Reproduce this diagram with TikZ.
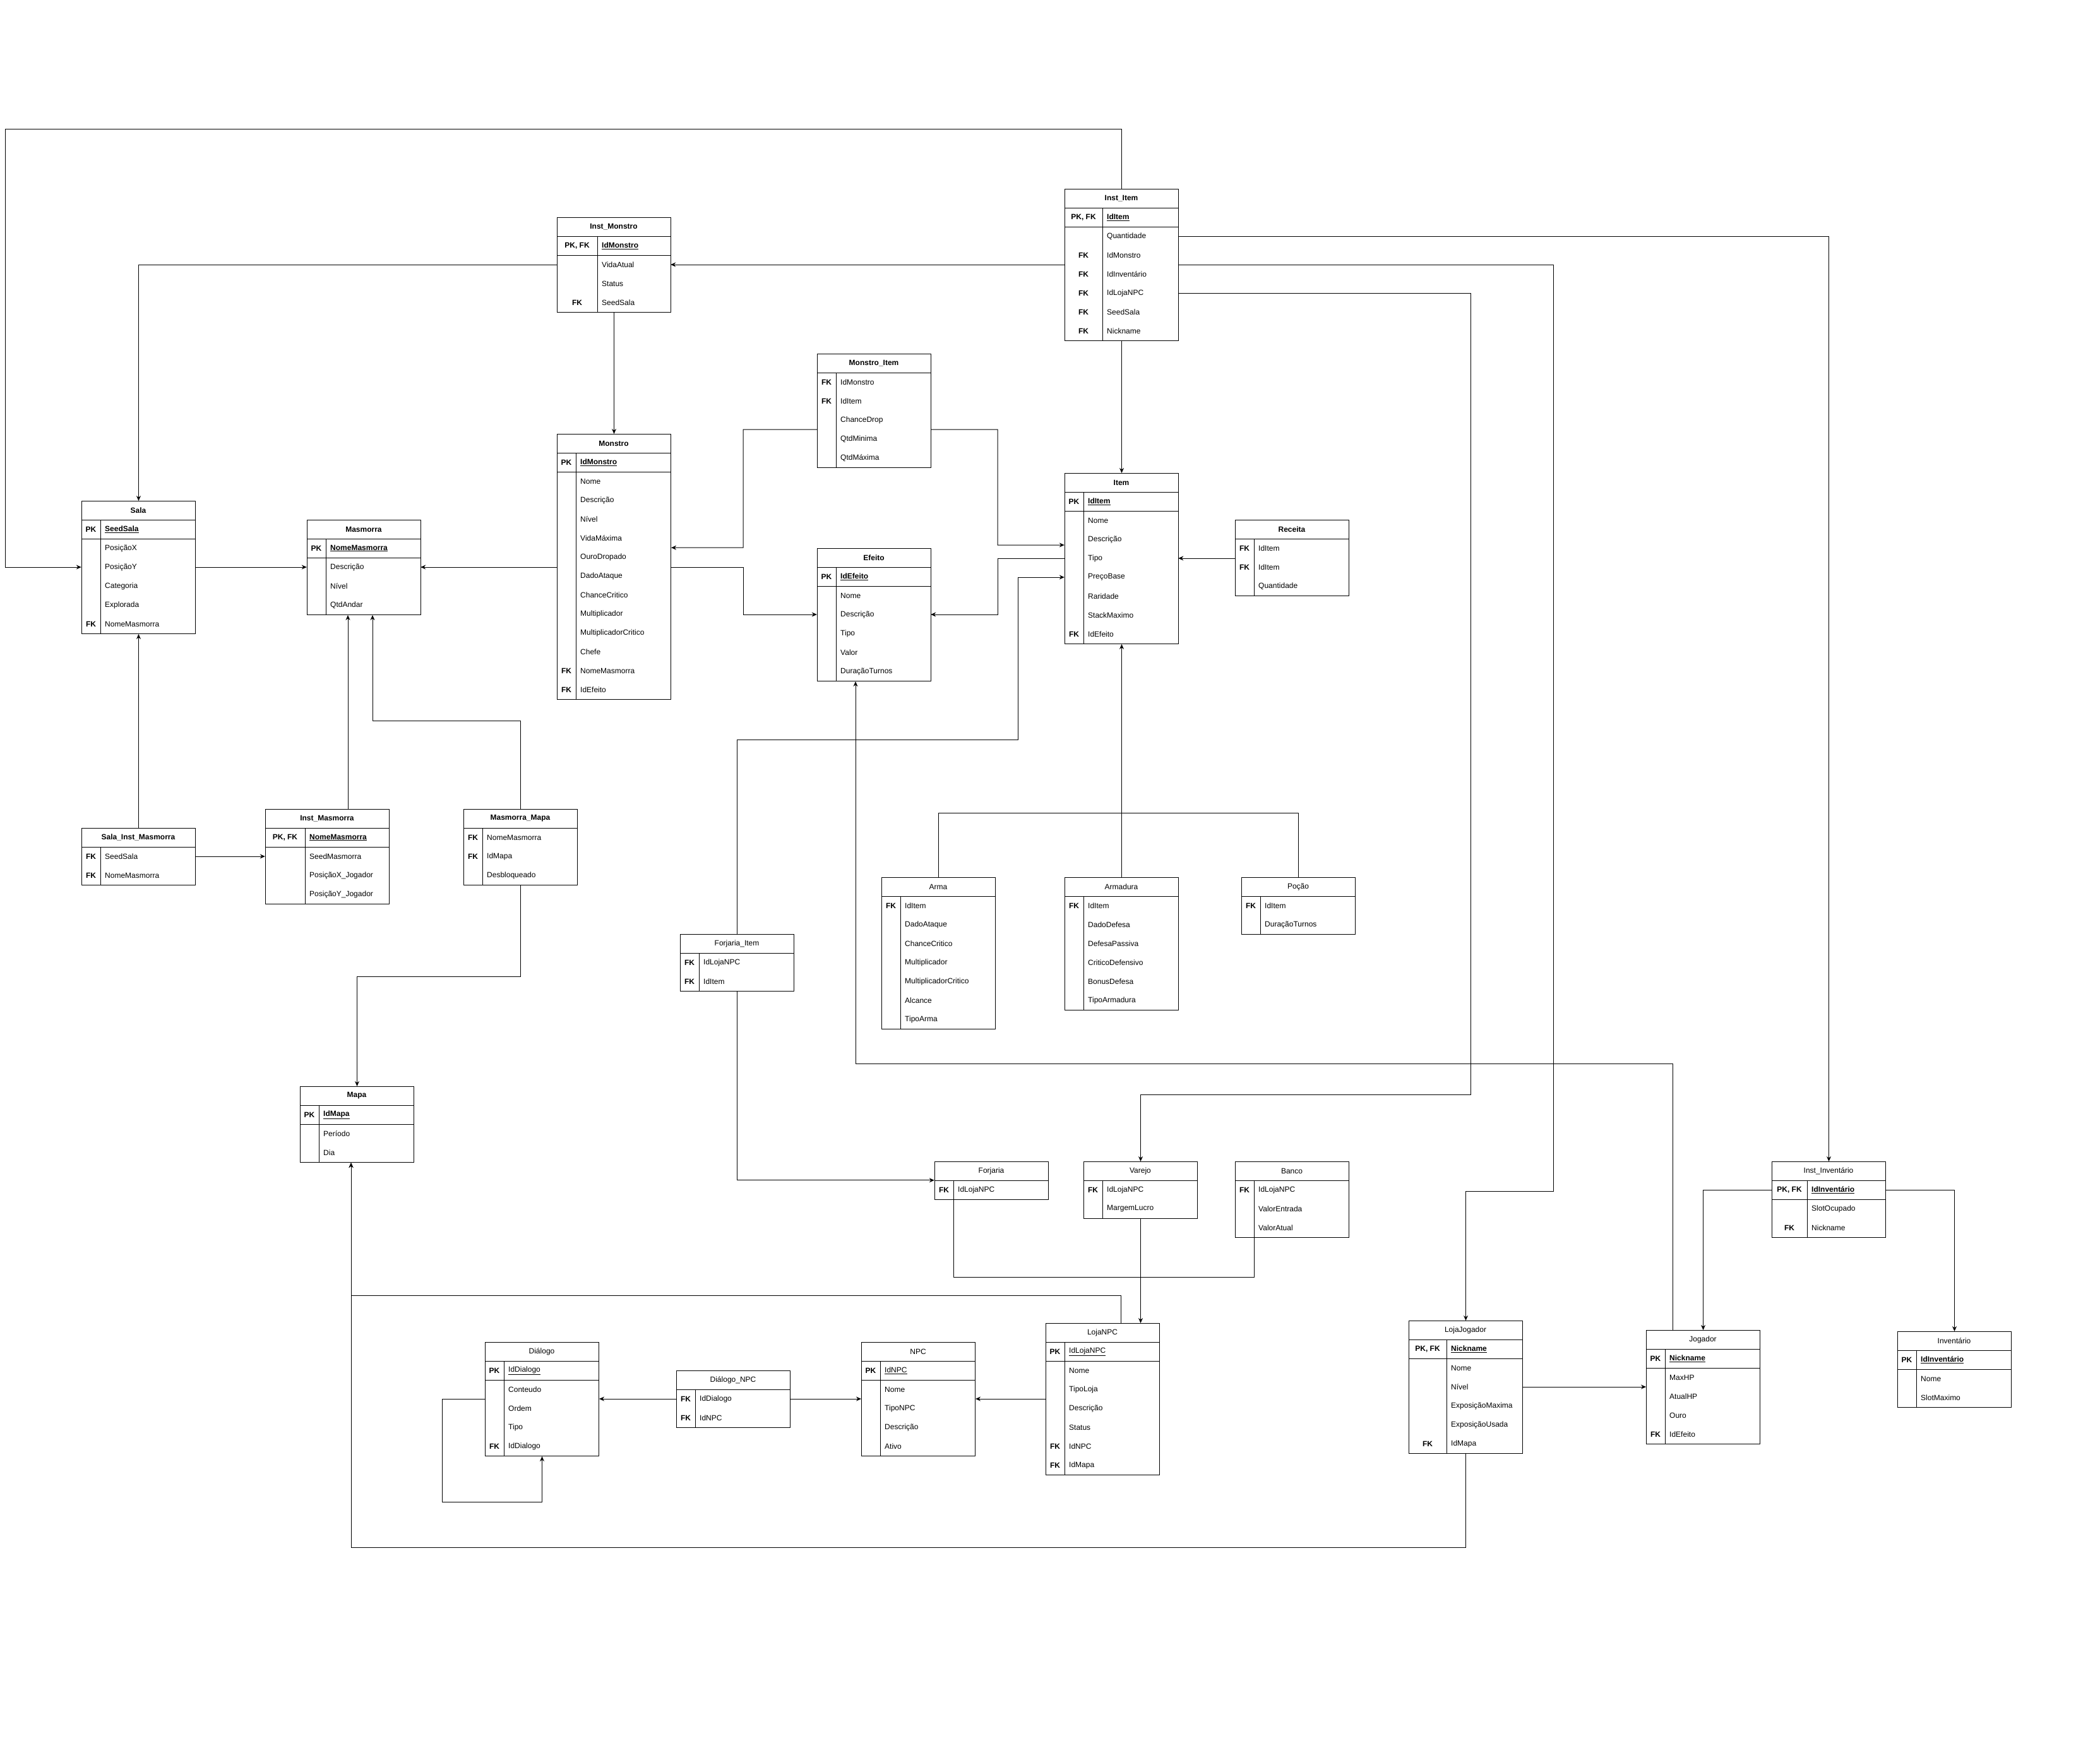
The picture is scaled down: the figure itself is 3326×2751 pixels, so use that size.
\documentclass[tikz,border=0pt]{standalone}
\usepackage{fontspec}
\setmainfont{Liberation Sans}
\usetikzlibrary{arrows.meta,calc}

\tikzset{
  tabbox/.style={draw, line width=1pt, inner sep=0pt, anchor=north west},
  tabtitle/.style={inner sep=0pt, font=\fontsize{12}{14}\selectfont},
  keytext/.style={inner sep=0pt, font=\fontsize{12}{14}\selectfont\bfseries},
  fieldtext/.style={inner sep=0pt, anchor=west, font=\fontsize{12}{14}\selectfont},
  rowbox/.style={inner sep=0pt, minimum height=30pt},
  sepp/.style={draw, line width=1pt},
  sepq/.style={draw, line width=1pt},
  sepa/.style={},
  fk/.style={line width=1pt, -{Stealth[length=8pt,width=7pt]}},
  link/.style={line width=1pt},
}

\newcommand{\fmtp}[1]{\textbf{\underline{#1}}}
\newcommand{\fmtq}[1]{\underline{#1}}
\newcommand{\fmta}[1]{#1}

% table: name, x, y, width, key width, rows, title, fields
\newcommand{\ertable}[8]{%
  \node[tabbox, minimum width=#4pt, minimum height={(#6+1)*30pt}] (#1) at (#2,#3) {};
  \node[tabtitle] (#1-t) at (#2+#4/2,#3+15) {#7};
  \draw[line width=1pt] (#2,#3+30) -- ++(#4,0);
  \draw[line width=1pt] (#2+#5,#3+30) -- ++(0,#6*30);
  \foreach \keyname/\fieldname/\rowkind [count=\n] in {#8} {
    \node[rowbox, minimum width=#4pt] (#1-\n) at (#2+#4/2,#3+30*\n+15) {};
    \node[keytext] (#1-k\n) at (#2+#5/2,#3+30*\n+15) {\keyname};
    \node[fieldtext] (#1-f\n) at (#2+#5+7,#3+30*\n+15) {\csname fmt\rowkind\endcsname{\fieldname}};
    \path[sep\rowkind] (#2,#3+30*\n+30) -- ++(#4,0);
  }
}

\begin{document}
\begin{tikzpicture}[x=1pt,y=-1pt]
  \fill[white] (0,0) rectangle (3326,2751);
  \useasboundingbox (0,0) rectangle (3326,2751);

  % dungeon side
  \ertable{sala}{129}{793}{180}{30}{6}{\textbf{Sala}}{PK/SeedSala/p, {}/PosiçãoX/a, {}/PosiçãoY/a, {}/Categoria/a, {}/Explorada/a, FK/NomeMasmorra/a}
  \ertable{masmorra}{486}{823}{180}{30}{4}{\textbf{Masmorra}}{PK/NomeMasmorra/p, {}/Descrição/a, {}/Nível/a, {}/QtdAndar/a}
  \ertable{imonstro}{882}{344}{180}{64}{4}{\textbf{Inst\_Monstro}}{{PK, FK}/IdMonstro/p, {}/VidaAtual/a, {}/Status/a, FK/SeedSala/a}
  \ertable{monstro}{882}{687}{180}{30}{13}{\textbf{Monstro}}{PK/IdMonstro/p, {}/Nome/a, {}/Descrição/a, {}/Nível/a, {}/VidaMáxima/a, {}/OuroDropado/a, {}/DadoAtaque/a, {}/ChanceCritico/a, {}/Multiplicador/a, {}/MultiplicadorCritico/a, {}/Chefe/a, FK/NomeMasmorra/a, FK/IdEfeito/a}
  \ertable{mitem}{1294}{560}{180}{30}{5}{\textbf{Monstro\_Item}}{FK/IdMonstro/a, FK/IdItem/a, {}/ChanceDrop/a, {}/QtdMinima/a, {}/QtdMáxima/a}
  \ertable{efeito}{1294}{868}{180}{30}{6}{\textbf{Efeito}}{PK/IdEfeito/p, {}/Nome/a, {}/Descrição/a, {}/Tipo/a, {}/Valor/a, {}/DuraçãoTurnos/a}
  \ertable{iitem}{1686}{299}{180}{60}{7}{\textbf{Inst\_Item}}{{PK, FK}/IdItem/p, {}/Quantidade/a, FK/IdMonstro/a, FK/IdInventário/a, FK/IdLojaNPC/a, FK/SeedSala/a, FK/Nickname/a}
  \ertable{item}{1686}{749}{180}{30}{8}{\textbf{Item}}{PK/IdItem/p, {}/Nome/a, {}/Descrição/a, {}/Tipo/a, {}/PreçoBase/a, {}/Raridade/a, {}/StackMaximo/a, FK/IdEfeito/a}
  \ertable{receita}{1956}{823}{180}{30}{3}{\textbf{Receita}}{FK/IdItem/a, FK/IdItem/a, {}/Quantidade/a}
  \ertable{simasm}{129}{1311}{180}{30}{2}{\textbf{Sala\_Inst\_Masmorra}}{FK/SeedSala/a, FK/NomeMasmorra/a}
  \ertable{imasm}{420}{1281}{196}{63}{4}{\textbf{Inst\_Masmorra}}{{PK, FK}/NomeMasmorra/p, {}/SeedMasmorra/a, {}/PosiçãoX\_Jogador/a, {}/PosiçãoY\_Jogador/a}
  \ertable{masmapa}{734}{1281}{180}{30}{3}{\textbf{Masmorra\_Mapa}}{FK/NomeMasmorra/a, FK/IdMapa/a, {}/Desbloqueado/a}
  \ertable{mapa}{475}{1720}{180}{30}{3}{\textbf{Mapa}}{PK/IdMapa/p, {}/Período/a, {}/Dia/a}

  % item kinds and shops
  \ertable{arma}{1396}{1389}{180}{30}{7}{Arma}{FK/IdItem/a, {}/DadoAtaque/a, {}/ChanceCritico/a, {}/Multiplicador/a, {}/MultiplicadorCritico/a, {}/Alcance/a, {}/TipoArma/a}
  \ertable{armadura}{1686}{1389}{180}{30}{6}{Armadura}{FK/IdItem/a, {}/DadoDefesa/a, {}/DefesaPassiva/a, {}/CriticoDefensivo/a, {}/BonusDefesa/a, {}/TipoArmadura/a}
  \ertable{pocao}{1966}{1389}{180}{30}{2}{Poção}{FK/IdItem/a, {}/DuraçãoTurnos/a}
  \ertable{fitem}{1077}{1479}{180}{30}{2}{Forjaria\_Item}{FK/IdLojaNPC/a, FK/IdItem/a}
  \ertable{forjaria}{1480}{1839}{180}{30}{1}{Forjaria}{FK/IdLojaNPC/a}
  \ertable{varejo}{1716}{1839}{180}{30}{2}{Varejo}{FK/IdLojaNPC/a, {}/MargemLucro/a}
  \ertable{banco}{1956}{1839}{180}{30}{3}{Banco}{FK/IdLojaNPC/a, {}/ValorEntrada/a, {}/ValorAtual/a}
  \ertable{iinv}{2806}{1839}{180}{56}{3}{Inst\_Inventário}{{PK, FK}/IdInventário/p, {}/SlotOcupado/a, FK/Nickname/a}

  % npc and player side
  \ertable{dialogo}{768}{2125}{180}{30}{5}{Diálogo}{PK/IdDialogo/q, {}/Conteudo/a, {}/Ordem/a, {}/Tipo/a, FK/IdDialogo/a}
  \ertable{dnpc}{1071}{2170}{180}{30}{2}{Diálogo\_NPC}{FK/IdDialogo/a, FK/IdNPC/a}
  \ertable{npc}{1364}{2125}{180}{30}{5}{NPC}{PK/IdNPC/q, {}/Nome/a, {}/TipoNPC/a, {}/Descrição/a, {}/Ativo/a}
  \ertable{lojanpc}{1656}{2095}{180}{30}{7}{LojaNPC}{PK/IdLojaNPC/q, {}/Nome/a, {}/TipoLoja/a, {}/Descrição/a, {}/Status/a, FK/IdNPC/a, FK/IdMapa/a}
  \ertable{lojajog}{2231}{2091}{180}{60}{6}{LojaJogador}{{PK, FK}/Nickname/p, {}/Nome/a, {}/Nível/a, {}/ExposiçãoMaxima/a, {}/ExposiçãoUsada/a, FK/IdMapa/a}
  \ertable{jogador}{2607}{2106}{180}{30}{5}{Jogador}{PK/Nickname/p, {}/MaxHP/a, {}/AtualHP/a, {}/Ouro/a, FK/IdEfeito/a}
  \ertable{inventario}{3005}{2108}{180}{30}{3}{Inventário}{PK/IdInventário/p, {}/Nome/a, {}/SlotMaximo/a}

  % connectors from Inst_Item
  \draw[fk] (iitem.north) |- (8,204) |- (sala-3.west);
  \draw[fk] (imonstro-2.east -| iitem.west) -- (imonstro-2.east);
  \draw[fk] (iitem-2.east) -| (iinv.north);
  \draw[fk] (imonstro-2.east -| iitem.east) -| (2460,1886) -| (lojajog.north);
  \draw[fk] (iitem-5.east) -| (2329,1733) -| (varejo.north);
  \draw[fk] (iitem.south) -- (item.north);

  % monsters and dungeon
  \draw[fk] (imonstro-2.west) -| (sala.north);
  \draw[fk] (imonstro.south) -- (monstro.north);
  \draw[fk] (masmorra-2.east -| monstro.west) -- (masmorra-2.east);
  \draw[fk] (sala-3.east) -- (masmorra-2.west);
  \draw[fk] (masmorra-2.east -| monstro.east) -- (1177,898) |- (efeito-3.west);
  \draw[fk] (mitem-3.south -| mitem.west) -- (1177,680) |- (monstro-5.south -| monstro.east);
  \draw[fk] (mitem-3.south -| mitem.east) -- (1580,680) |- ($(item-3.west)+(0,9)$);
  \draw[fk] (item-4.west) -- (1580,884) |- (efeito-3.east);
  \draw[fk] (fitem.north) |- (1612,1171) |- (item-5.west);
  \draw[fk] (item-4.east -| receita.west) -- (item-4.east);

  % item kinds
  \draw[fk] (armadura.north) -- (item.south);
  \draw[link] (arma.north) -- ++(0,-102) -| (pocao.north);

  % dungeon instances and map
  \draw[fk] (simasm.north) -- (sala.south);
  \draw[fk] (simasm-1.east) -- (imasm-2.west);
  \draw[fk] ($(imasm.north west)+(131,0)$) -- ($(masmorra.south west)+(65,0)$);
  \draw[fk] (masmapa.north) |- (590,1141) -- ($(masmorra.south west)+(104,0)$);
  \draw[fk] (masmapa.south) -- ++(0,144) -| (mapa.north);

  % shops
  \draw[fk] (fitem.south) |- (forjaria-1.north west);
  \draw[link] ($(forjaria.south west)+(30,0)$) -- ++(0,122) -| ($(banco.south west)+(30,0)$);
  \draw[fk] (varejo.south) -- (varejo.south |- lojanpc.north);
  \draw[fk] ($(lojanpc.north west)+(119,0)$) |- (556,2051) -- ($(mapa.south west)+(81,0)$);
  \draw[fk] (lojajog.south) |- (556,2450) -- ($(mapa.south west)+(81,0)$);

  % npc and dialogues
  \draw[fk] (dnpc-1.west) -- (dnpc-1.west -| dialogo.east);
  \draw[fk] (dnpc-1.east) -- (dnpc-1.east -| npc.west);
  \draw[fk] (dnpc-1.east -| lojanpc.west) -- (dnpc-1.east -| npc.east);
  \draw[fk] (dnpc-1.west -| dialogo.west) -| (700,2378) -| (dialogo.south);

  % player
  \draw[fk] (lojajog-3.east) -- (lojajog-3.east -| jogador.west);
  \draw[fk] (iinv-1.west) -| (jogador.north);
  \draw[fk] (iinv-1.east) -| (inventario.north);
  \draw[fk] ($(jogador.north west)+(42,0)$) |- (1355,1684) -- ($(efeito.south west)+(61,0)$);
\end{tikzpicture}
\end{document}
